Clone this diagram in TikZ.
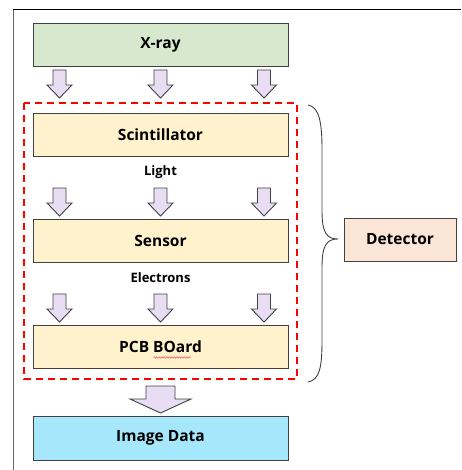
\documentclass[tikz,border=0pt]{standalone}
\usepackage{fontspec}
\setmainfont{Open Sans}
\usetikzlibrary{decorations.pathmorphing,calc}
\definecolor{xgreen}{HTML}{D6E8CE}
\definecolor{yel}{HTML}{FFF2CC}
\definecolor{cyanb}{HTML}{A7E7FC}
\definecolor{peach}{HTML}{FBE5D6}
\definecolor{lav}{HTML}{E9DDF3}
\definecolor{edge}{HTML}{404040}
\tikzset{
  box/.style={draw=edge, line width=1pt, minimum width=255pt, minimum height=43pt, inner sep=0pt, font=\fontsize{15.5}{17}\selectfont\bfseries},
  lbl/.style={inner sep=0pt, font=\fontsize{13}{15}\selectfont\bfseries},
  blk/.style={draw=edge, fill=lav, line width=0.9pt, line join=miter},
  smallarrow/.pic={\path[blk] (-6.5,0) -- (6.5,0) -- (6.5,15) -- (12.5,15) -- (0,28) -- (-12.5,15) -- (-6.5,15) -- cycle;},
  bigarrow/.pic={\path[blk] (-14.5,0) -- (14.5,0) -- (14.5,13) -- (30.5,13) -- (0,27) -- (-30.5,13) -- (-14.5,13) -- cycle;}
}
\begin{document}
\begin{tikzpicture}[x=1pt,y=-1pt]
\useasboundingbox (0,0) rectangle (461,470);
% frame
\draw[gray!80!black, line width=1pt] (13,470) -- (13,9.3);
\draw[black, line width=1pt] (13,9.3) -- (461,9.3);
% boxes
\node[box, fill=xgreen] (xray) at (160.5,45) {X-ray};
\node[box, fill=yel] (scint) at (160.5,135) {Scintillator};
\node[box, fill=yel] (sensor) at (160.5,240.5) {Sensor};
\node[box, fill=yel] (pcb) at (160.5,347) {PCB BOard};
\node[box, fill=cyanb, minimum height=44pt] (img) at (160.5,438) {Image Data};
\node[box, fill=peach, minimum width=112pt, minimum height=43pt] (det) at (400,239.5) {Detector};
% labels
\node[lbl] (light) at (160.5,172.5) {Light};
\node[lbl] (elec) at (160.5,277.5) {Electrons};
% spell-check underline
\draw[red!70, line width=0.5pt, decorate, decoration={snake, amplitude=0.7pt, segment length=2.5pt}] ($(pcb.center)+(-7,10.5)$) -- ($(pcb.center)+(30,10.5)$);
% dashed detector region
\draw[red, line width=2pt, dash pattern=on 7pt off 5pt] (24,103) rectangle (297,379);
% arrows
\foreach \xx in {59.5,160.5,264} {
  \pic at (\xx,70) {smallarrow};
  \pic at (\xx,188) {smallarrow};
  \pic at (\xx,294) {smallarrow};
}
\pic at (160.5,386) {bigarrow};
% brace
\coordinate (btop) at (308,105);
\coordinate (bbot) at (308,382);
\coordinate (btip) at (338,239);
\draw[edge, line width=0.9pt] (btop) .. controls (320,107) and (322,125) .. (322,150) -- (322,210) .. controls (322,232) and (326,239) .. (btip)
  (btip) .. controls (326,239) and (322,246) .. (322,268) -- (322,340) .. controls (322,366) and (320,380) .. (bbot);
\end{tikzpicture}
\end{document}
